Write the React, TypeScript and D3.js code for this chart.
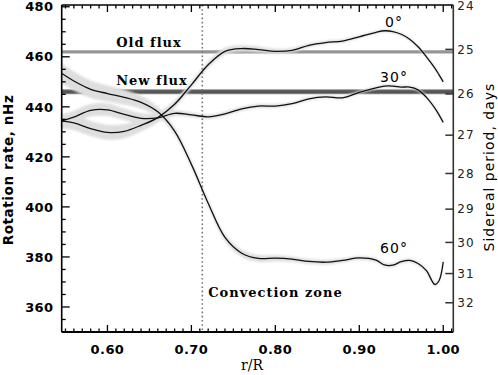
import React from "react";
import * as d3 from "d3";

// fractional radius grid shared by the three latitude profiles
const radius = [
  0.545, 0.56, 0.58, 0.6, 0.62, 0.64, 0.66, 0.68, 0.7, 0.72, 0.74, 0.76, 0.78, 0.8, 0.82,
  0.84, 0.86, 0.88, 0.9, 0.92, 0.93, 0.94, 0.95, 0.96, 0.97, 0.98, 0.99, 0.995, 1.0,
];

// rotation rate, nHz
const rate0 = [
  434.3, 433.6, 431.3, 429.8, 430.2, 432.6, 435.7, 441.0, 448.8, 456.8, 462.2, 463.3, 462.9,
  462.2, 462.6, 464.6, 465.7, 466.3, 468.0, 469.8, 470.4, 470.1, 469.0, 467.0, 464.0, 460.0,
  455.5, 452.8, 450.0,
];
const rate30 = [
  434.3, 435.9, 438.6, 438.8, 437.0, 435.4, 435.6, 437.4, 436.8, 436.0, 437.2, 439.2, 440.3,
  440.3, 441.3, 443.2, 444.0, 443.6, 445.8, 447.6, 448.3, 448.3, 447.9, 447.9, 446.8, 443.8,
  439.5, 436.8, 433.8,
];
const rate60 = [
  453.5, 450.3, 447.0, 445.3, 443.8, 441.8, 438.0, 430.3, 417.0, 401.5, 387.8, 381.5, 379.4,
  379.5, 379.1, 378.2, 377.9, 378.6, 379.6, 378.7, 376.8, 376.7, 378.1, 378.6, 377.4, 374.5,
  369.0, 370.5, 378.0,
];

// error half-widths, nHz
const err0 = [
  3, 3, 3, 3, 2.8, 2.5, 2, 1.6, 1.4, 1.4, 1.4, 1.3, 1.2, 1.0, 0.9, 0.8, 0.7, 0.7, 0.6, 0.6,
  0.6, 0.6, 0.6, 0.6, 0.6, 0.6, 0.6, 0.6, 0.6,
];
const err30 = [
  2.5, 2.5, 2.5, 2.5, 2.3, 2, 1.6, 1.2, 1, 0.9, 0.9, 0.9, 0.8, 0.8, 0.7, 0.7, 0.6, 0.6, 0.6,
  0.6, 0.6, 0.6, 0.6, 0.6, 0.6, 0.6, 0.6, 0.6, 0.6,
];
const err60 = [
  4, 3.8, 3.5, 3.2, 3, 2.6, 2, 1.6, 1.4, 1.4, 1.5, 1.5, 1.4, 1.2, 1.1, 1.0, 1.0, 0.9, 0.8,
  0.8, 0.8, 0.8, 0.8, 0.8, 0.8, 0.8, 0.8, 0.8, 0.8,
];

const latitudes = ["0°", "30°", "60°"];
const latLabelR = [0.9306, 0.9248, 0.9248];
const latLabelRate = [471.9, 449.9, 381.5];

const oldFlux = 462.0;
const newFlux = 446.0;
const tachocline = 0.713;

const xTicks = [0.6, 0.7, 0.8, 0.9, 1.0];
const yTicks = [360, 380, 400, 420, 440, 460, 480];
const periodTicks = [24, 25, 26, 27, 28, 29, 30, 31, 32];

const W = 498;
const H = 375;

const x = d3.scaleLinear().domain([0.5455, 1.012]).range([61.7, 453.3]);
const y = d3.scaleLinear().domain([350, 480.7]).range([332, 5]);

const toNhz = (days: number) => 1e9 / (days * 86400);

const series = [
  { v: rate0, e: err0 },
  { v: rate30, e: err30 },
  { v: rate60, e: err60 },
];

export default function App() {
  const line = d3
    .line<number>()
    .x((_, i) => x(radius[i]))
    .y((d) => y(d))
    .curve(d3.curveCatmullRom.alpha(0.5));

  const band = (e: number[]) =>
    d3
      .area<number>()
      .x((_, i) => x(radius[i]))
      .y0((d, i) => y(d - e[i]))
      .y1((d, i) => y(d + e[i]))
      .curve(d3.curveCatmullRom.alpha(0.5));

  const [x0, x1] = x.range();
  const [yb, yt] = y.range();
  const minorX = d3.range(55, 102).map((i) => i / 100);
  const minorY = d3.range(350, 481, 5);

  const tickFont = { fontFamily: "DejaVu Sans", fontWeight: 700, fontSize: 13, letterSpacing: 0.4 };
  const noteFont = { fontFamily: "DejaVu Serif", fontWeight: 700, fontSize: 13, letterSpacing: 1 };

  return (
    <svg width={W} height={H} style={{ position: "absolute", left: 0, top: 0, background: "#fff" }}>
      <defs>
        <filter id="soft" x="-5%" y="-20%" width="110%" height="140%">
          <feGaussianBlur stdDeviation="1.3" />
        </filter>
      </defs>

      {/* flux reference lines */}
      <line x1={x0} x2={x1} y1={y(oldFlux)} y2={y(oldFlux)} stroke="#959595" strokeWidth={3.2} />
      <line x1={x0} x2={x1} y1={y(newFlux)} y2={y(newFlux)} stroke="#8a8a8a" strokeWidth={5} />
      <line x1={x0} x2={x1} y1={y(newFlux)} y2={y(newFlux)} stroke="#555" strokeWidth={3} />

      {/* error bands */}
      <g filter="url(#soft)">
        {series.map((s, k) => (
          <path key={k} d={band(s.e)(s.v) || ""} fill="#dedede" />
        ))}
      </g>

      {/* tachocline */}
      <line
        x1={x(tachocline)}
        x2={x(tachocline)}
        y1={yt}
        y2={yb}
        stroke="#777"
        strokeWidth={1.6}
        strokeDasharray="1.6 2.6"
      />

      {series.map((s, k) => (
        <path key={k} d={line(s.v) || ""} fill="none" stroke="#111" strokeWidth={1.3} />
      ))}

      {/* frame */}
      <line x1={x0} x2={x0} y1={yt} y2={yb} stroke="#000" strokeWidth={1.6} />
      <line x1={x0} x2={x1} y1={yb} y2={yb} stroke="#000" strokeWidth={2} />
      <line x1={x0} x2={x1} y1={yt} y2={yt} stroke="#000" strokeWidth={1.6} />
      <line x1={x1} x2={x1} y1={yt} y2={yb} stroke="#333" strokeWidth={1.6} />

      {minorX.map((r) => {
        const big = Math.abs(r * 10 - Math.round(r * 10)) < 1e-6;
        const len = big ? 7 : 3.5;
        return (
          <g key={r}>
            <line x1={x(r)} x2={x(r)} y1={yb} y2={yb - len} stroke="#000" strokeWidth={1.3} />
            <line x1={x(r)} x2={x(r)} y1={yt} y2={yt + len} stroke="#000" strokeWidth={1.3} />
          </g>
        );
      })}
      {minorY.map((v) => {
        const big = v % 20 === 0;
        return (
          <line key={v} x1={x0} x2={x0 + (big ? 8 : 4)} y1={y(v)} y2={y(v)} stroke="#000" strokeWidth={1.3} />
        );
      })}
      {periodTicks.map((p) => {
        const ty = y(toNhz(p));
        const inside = ty >= yt;
        return (
          <g key={p}>
            {inside && <line x1={x1 - 8} x2={x1} y1={ty} y2={ty} stroke="#333" strokeWidth={1.5} />}
            <text
              x={x1 + 4}
              y={Math.max(ty, 6)}
              dy="0.36em"
              fontFamily="DejaVu Sans"
              fontSize={12}
              letterSpacing={1}
              fill="#222"
            >
              {p}
            </text>
          </g>
        );
      })}

      {yTicks.map((v) => (
        <text key={v} x={53.5} y={y(v)} dy="0.36em" textAnchor="end" style={tickFont}>
          {v}
        </text>
      ))}
      {xTicks.map((r) => (
        <text key={r} x={x(r)} y={354} textAnchor="middle" style={tickFont}>
          {r.toFixed(2)}
        </text>
      ))}

      <text
        transform="translate(13,170) rotate(-90)"
        textAnchor="middle"
        fontFamily="DejaVu Sans"
        fontWeight={700}
        fontSize={13.5}
        letterSpacing={0.6}
      >
        Rotation rate, nHz
      </text>
      <text
        transform="translate(494,167) rotate(-90)"
        textAnchor="middle"
        fontFamily="DejaVu Sans"
        fontSize={14}
        letterSpacing={1}
      >
        Sidereal period, days
      </text>
      <text x={252} y={370} textAnchor="middle" fontFamily="DejaVu Serif" fontSize={14}>
        r/R
      </text>

      <text x={x(0.6104)} y={y(464.0)} style={noteFont}>
        Old flux
      </text>
      <text x={x(0.6104)} y={y(448.7)} style={noteFont}>
        New flux
      </text>
      <text x={x(0.72)} y={y(364.0)} style={noteFont}>
        Convection zone
      </text>

      {latitudes.map((t, i) => (
        <text
          key={t}
          x={x(latLabelR[i])}
          y={y(latLabelRate[i])}
          fontFamily="DejaVu Sans"
          fontSize={14}
          letterSpacing={1}
        >
          {t}
        </text>
      ))}
    </svg>
  );
}
